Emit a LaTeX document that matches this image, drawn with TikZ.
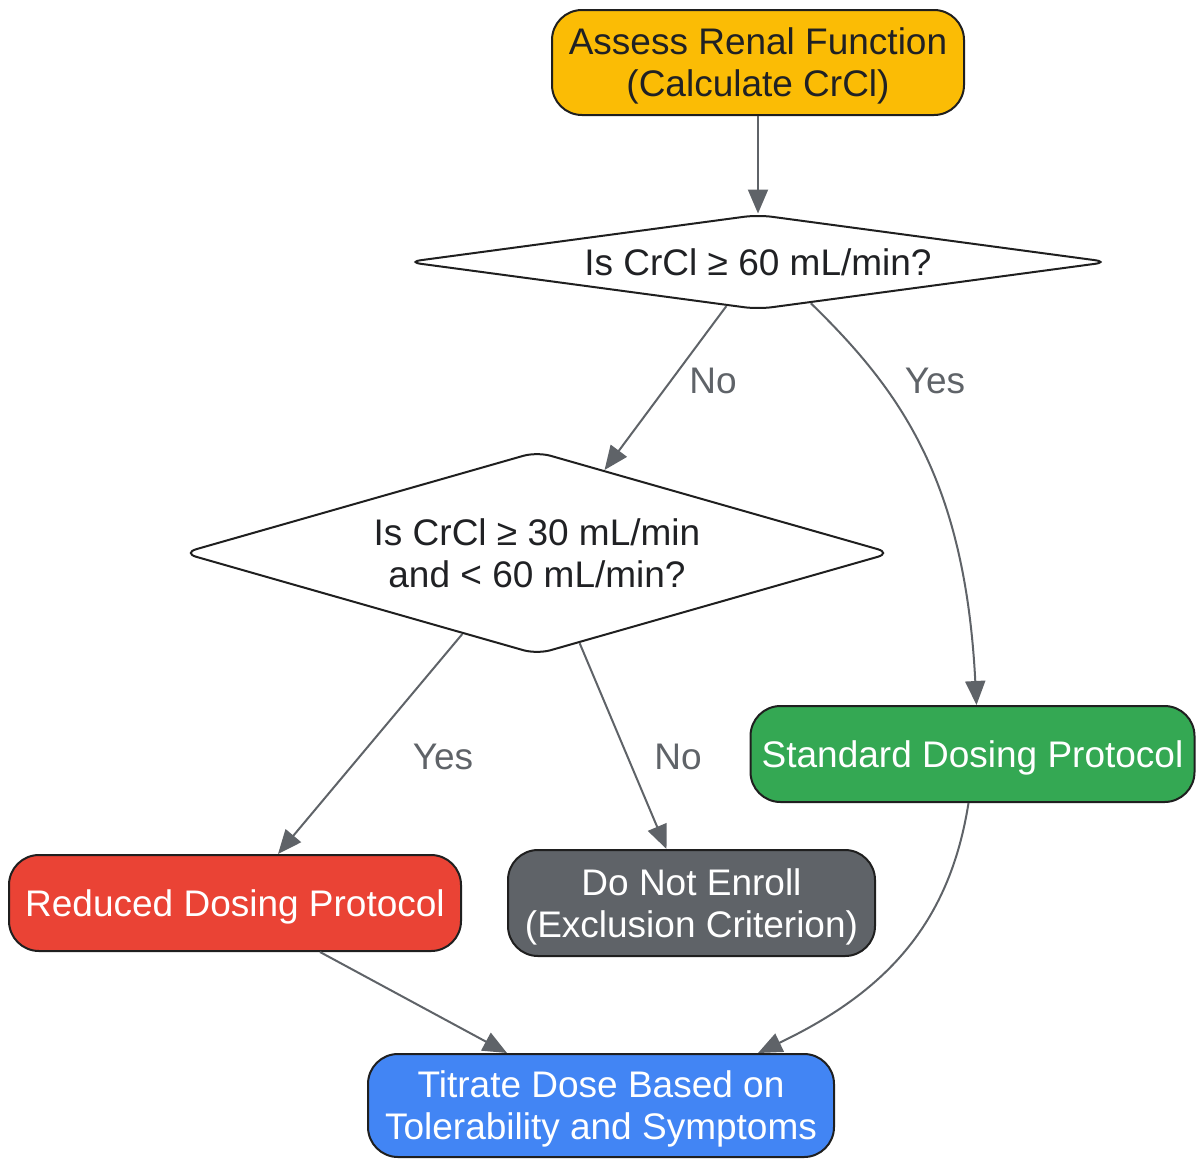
\documentclass[tikz,border=0pt]{standalone}
\usepackage{fontspec}
\setmainfont{Liberation Sans}
\usetikzlibrary{shapes.geometric,arrows.meta,calc}
\definecolor{cyellow}{HTML}{FBBC05}
\definecolor{cred}{HTML}{EA4335}
\definecolor{cgray}{HTML}{5F6368}
\definecolor{cgreen}{HTML}{34A853}
\definecolor{cblue}{HTML}{4285F4}
\definecolor{cborder}{HTML}{1F1F1F}
\definecolor{ctext}{HTML}{202124}
\tikzset{
  txt/.style={font=\fontsize{37}{42}\selectfont},
  box/.style={txt, rectangle, rounded corners=30pt, draw=cborder, line width=2pt, align=center, inner sep=0pt, text depth=0pt},
  dia/.style={txt, diamond, rounded corners=14pt, draw=cborder, line width=2pt, fill=white, align=center, inner sep=0pt, text=ctext},
  edge/.style={draw=cgray, line width=2pt, -{Triangle[length=24pt,width=20pt]}},
  lab/.style={txt, text=cgray, inner sep=0pt}
}
\begin{document}
\begin{tikzpicture}[x=1pt,y=-1pt]
\useasboundingbox (0,0) rectangle (1196,1159);
% nodes
\node[box, fill=cyellow, text=ctext, minimum width=412pt, minimum height=105pt] (a) at (758,62.5) {Assess Renal Function\\(Calculate CrCl)};
\node[dia, minimum width=702pt, minimum height=95pt, shape aspect=7.4] (d1) at (758,262) {Is CrCl ≥ 60 mL/min?};
\node[dia, minimum width=709pt, minimum height=203pt, shape aspect=3.5] (d2) at (537,553) {Is CrCl ≥ 30 mL/min\\and < 60 mL/min?};
\node[box, fill=cred, text=white, minimum width=452pt, minimum height=96pt] (red) at (235,903) {Reduced Dosing Protocol};
\node[box, fill=cgray, text=white, minimum width=367pt, minimum height=106pt] (ex) at (691.5,903) {Do Not Enroll\\(Exclusion Criterion)};
\node[box, fill=cgreen, text=white, minimum width=444pt, minimum height=96pt] (std) at (972.5,754) {Standard Dosing Protocol};
\node[box, fill=cblue, text=white, minimum width=466pt, minimum height=103pt] (tit) at (601,1105.5) {Titrate Dose Based on\\Tolerability and Symptoms};
% edges
\draw[edge] (a.south) -- (d1.north);
\draw[edge] ($(d1.south)!0.09!(d1.west)$) -- ($(d2.north)!0.19!(d2.east)$);
\draw[edge] ($(d1.south)!0.15!(d1.east)$) .. controls (900,390) and (965,480) .. ([xshift=4pt]std.north);
\draw[edge] ($(d2.south)!0.21!(d2.west)$) -- ([xshift=43pt]red.north);
\draw[edge] ($(d2.south)!0.12!(d2.east)$) -- ([xshift=-25pt]ex.north);
\draw[edge] ([xshift=85pt]red.south) -- ([xshift=-94pt]tit.north);
\draw[edge] ([xshift=-4pt]std.south) .. controls (950,920) and (890,990) .. ([xshift=157pt]tit.north);
% labels
\node[lab] (l1) at (713,381) {No};
\node[lab] (l2) at (935,381) {Yes};
\node[lab] (l3) at (443,757) {Yes};
\node[lab] (l4) at (678,757) {No};
\end{tikzpicture}
\end{document}
